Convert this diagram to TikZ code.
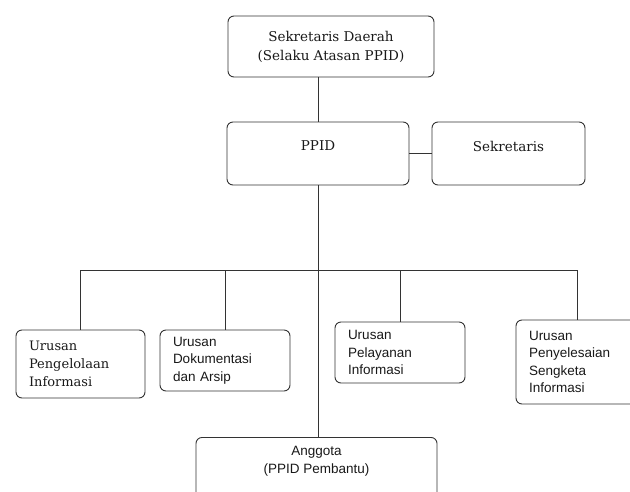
\documentclass[tikz,border=0pt]{standalone}
\usepackage{fontspec}
\setmainfont{DejaVu Serif}
\setsansfont{Liberation Sans}
\usetikzlibrary{calc}
\tikzset{
	kotak/.style={draw=black!80, line width=0.9pt, rounded corners=6pt, inner sep=0pt, text=black!90},
	garis/.style={draw=black!80, line width=0.8pt},
	serifatas/.style={font=\fontsize{13.5}{19}\selectfont, align=center},
	urusan/.style={kotak, align=left, inner xsep=13pt, minimum width=#1, text width=#1-26pt},
	urusan/.default=130pt,
	sans/.style={font=\sffamily\fontsize{13.5}{17.5}\selectfont},
}

\begin{document}
\begin{tikzpicture}[x=1pt, y=-1pt]
		\useasboundingbox (0,0) rectangle (630,491);
		\clip (0,0) rectangle (630,491);
		%%%%% START %%%%%
		
		\node[kotak, serifatas, minimum width=206pt, minimum height=61pt] (atasan) at (331,46.5) {Sekretaris Daerah\\(Selaku Atasan PPID)};
		
		\node[kotak, serifatas, minimum width=182pt, minimum height=63pt, text depth=15pt] (ppid) at (318,153.5) {PPID};
		\node[kotak, serifatas, minimum width=153pt, minimum height=63pt, text depth=15pt] (sekretaris) at (508.5,153.5) {Sekretaris};
		
		\node[urusan=129pt, minimum height=68pt, font=\fontsize{13}{18}\selectfont] (urusan1) at (80.5,364) {Urusan\\Pengelolaan\\Informasi};
		\node[urusan, sans, minimum height=61pt] (urusan2) at (225,360.5) {Urusan\\Dokumentasi\\dan Arsip};
		\node[urusan, sans, minimum height=61pt] (urusan3) at (400,352.5) {Urusan\\Pelayanan\\Informasi};
		\node[urusan=122pt, sans, minimum height=84pt] (urusan4) at (577,362) {Urusan\\Penyelesaian\\Sengketa\\Informasi};
		
		\node[kotak, minimum width=241pt, minimum height=64pt, anchor=north] (anggota) at (316.5,437) {};
		\node[sans, align=center, text=black!90] (teksanggota) at ($(anggota.north)+(0,24)$) {Anggota\\(PPID Pembantu)};
		
		% garis penghubung
		\coordinate (bus) at (0,270);
		\draw[garis] (ppid.north) -- (ppid.north |- atasan.south);
		\draw[garis] (ppid.east) -- (sekretaris.west);
		\draw[garis] (ppid.south) -- (ppid.south |- anggota.north);
		\draw[garis] (urusan1.north |- bus) -- (urusan4.north |- bus);
		\foreach \n in {urusan1,urusan2,urusan3,urusan4}
			\draw[garis] (\n.north) -- (\n.north |- bus);
		
		%%%%% END %%%%%
	\end{tikzpicture}
\end{document}
